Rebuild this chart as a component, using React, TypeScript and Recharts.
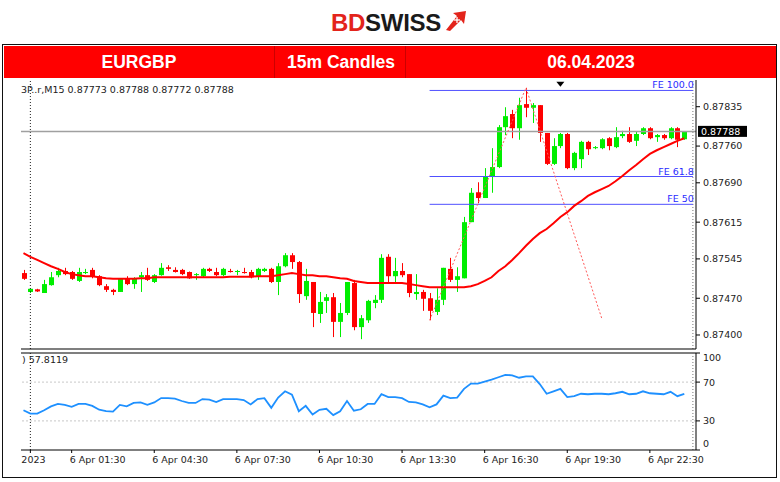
import React from 'react';
import { ComposedChart, LineChart, Line, Bar, XAxis, YAxis, ReferenceLine, ReferenceDot } from 'recharts';

const symbolInfo = '3P..r,M15  0.87773 0.87788 0.87772 0.87788';
const rsiInfo = ') 57.8119';
const headerCells = ['EURGBP', '15m Candles', '06.04.2023'];

const openPrices = [
  0.87518, 0.87482, 0.87487, 0.8748, 0.87495, 0.87514, 0.87522, 0.8752, 0.87503, 0.87518,
  0.87524, 0.87512, 0.87493, 0.87486, 0.87482, 0.87507, 0.87497, 0.8751, 0.87514, 0.87501,
  0.87514, 0.87529, 0.87524, 0.87524, 0.8752, 0.87515, 0.87512, 0.87526, 0.8752, 0.87514,
  0.87522, 0.8752, 0.8752, 0.8752, 0.87512, 0.87522, 0.87526, 0.87501, 0.87531, 0.87552,
  0.87539, 0.87474, 0.87501, 0.8744, 0.87465, 0.87472, 0.87425, 0.87442, 0.87499, 0.87415,
  0.87428, 0.87461, 0.87467, 0.87549, 0.87512, 0.87522, 0.87516, 0.87478, 0.87482, 0.8747,
  0.87444, 0.87467, 0.87526, 0.87505, 0.87508, 0.87615, 0.87672, 0.87661, 0.87701, 0.8772,
  0.87796, 0.87821, 0.87794, 0.8784, 0.87833, 0.87838, 0.87785, 0.87726, 0.8776, 0.87783,
  0.87718, 0.87735, 0.87768, 0.87756, 0.87756, 0.87775, 0.87758, 0.87779, 0.87783, 0.8777,
  0.87783, 0.87794, 0.87777, 0.87781, 0.87775, 0.87794, 0.87773,
];
const highPrices = [
  0.87524, 0.87489, 0.87488, 0.87505, 0.8752, 0.87528, 0.87528, 0.87522, 0.87528, 0.87526,
  0.87528, 0.87514, 0.87497, 0.87488, 0.87508, 0.87512, 0.8751, 0.8752, 0.87528, 0.87516,
  0.87537, 0.87533, 0.87529, 0.87526, 0.87521, 0.87518, 0.87528, 0.87528, 0.87528, 0.87528,
  0.87526, 0.87524, 0.87528, 0.87524, 0.87528, 0.87528, 0.87528, 0.87537, 0.87556, 0.87556,
  0.87541, 0.87526, 0.87501, 0.87482, 0.87478, 0.8748, 0.87461, 0.87501, 0.87505, 0.87438,
  0.87467, 0.87476, 0.87554, 0.87554, 0.87547, 0.87537, 0.87516, 0.87516, 0.87486, 0.8748,
  0.87489, 0.87528, 0.87547, 0.87529, 0.87625, 0.8768, 0.87691, 0.87718, 0.87756, 0.878,
  0.87834, 0.87829, 0.87852, 0.87871, 0.87842, 0.87838, 0.87785, 0.87775, 0.87785, 0.87785,
  0.87749, 0.8777, 0.8777, 0.8776, 0.87775, 0.87777, 0.87796, 0.87789, 0.87796, 0.87787,
  0.87796, 0.87796, 0.87783, 0.87783, 0.87796, 0.87796, 0.87788,
];
const lowPrices = [
  0.87505, 0.8748, 0.87482, 0.8748, 0.87494, 0.8751, 0.87514, 0.87505, 0.87501, 0.87516,
  0.87508, 0.87493, 0.87482, 0.87476, 0.87482, 0.87495, 0.87488, 0.87482, 0.87503, 0.87499,
  0.87513, 0.87522, 0.87519, 0.87514, 0.87507, 0.87505, 0.8751, 0.8752, 0.87512, 0.87512,
  0.87519, 0.87514, 0.87517, 0.87508, 0.87505, 0.8752, 0.87499, 0.87476, 0.87529, 0.87526,
  0.87461, 0.87467, 0.87415, 0.87423, 0.87442, 0.87396, 0.87396, 0.87438, 0.87409, 0.87392,
  0.87423, 0.87451, 0.87461, 0.87501, 0.87501, 0.8751, 0.87472, 0.87467, 0.87446, 0.87428,
  0.87438, 0.87457, 0.87501, 0.87482, 0.87508, 0.87615, 0.87651, 0.87661, 0.87671, 0.87718,
  0.87781, 0.87775, 0.87772, 0.87815, 0.87804, 0.87768, 0.87724, 0.87724, 0.87756, 0.87716,
  0.87714, 0.87718, 0.87743, 0.87754, 0.87754, 0.87752, 0.87756, 0.87775, 0.87766, 0.8776,
  0.87781, 0.87773, 0.87768, 0.87772, 0.87773, 0.87758, 0.87772,
];
const closePrices = [
  0.87507, 0.87488, 0.87483, 0.87497, 0.8751, 0.87522, 0.87516, 0.87507, 0.8752, 0.8752,
  0.87512, 0.87495, 0.87486, 0.87482, 0.87507, 0.87497, 0.87508, 0.87514, 0.87505, 0.87514,
  0.87528, 0.87526, 0.8752, 0.87516, 0.87508, 0.87516, 0.87526, 0.87522, 0.87514, 0.87526,
  0.8752, 0.87522, 0.87518, 0.8751, 0.87526, 0.87526, 0.87501, 0.87531, 0.87552, 0.87539,
  0.87478, 0.87503, 0.87442, 0.87463, 0.87472, 0.87425, 0.87442, 0.87501, 0.87415, 0.87432,
  0.87465, 0.87467, 0.87547, 0.87512, 0.87522, 0.87514, 0.8748, 0.87482, 0.87469, 0.87446,
  0.87467, 0.87528, 0.87505, 0.87512, 0.87615, 0.87671, 0.87661, 0.87701, 0.8772, 0.87796,
  0.87817, 0.87794, 0.87838, 0.87833, 0.87838, 0.87785, 0.87726, 0.8776, 0.87783, 0.87718,
  0.87747, 0.87768, 0.87754, 0.87758, 0.87773, 0.8776, 0.87777, 0.87783, 0.87768, 0.87783,
  0.87794, 0.87775, 0.87781, 0.87775, 0.87794, 0.87772, 0.87788,
];
const maValues = [
  0.87556, 0.87549, 0.87543, 0.87537, 0.87531, 0.87526, 0.8752, 0.87516, 0.87514, 0.87512,
  0.87512, 0.8751, 0.87508, 0.87507, 0.87507, 0.87507, 0.87507, 0.87508, 0.87508, 0.8751,
  0.8751, 0.8751, 0.8751, 0.8751, 0.8751, 0.8751, 0.8751, 0.8751, 0.8751, 0.8751,
  0.87511, 0.87511, 0.87511, 0.87511, 0.87512, 0.87512, 0.87512, 0.87514, 0.87516, 0.87518,
  0.87516, 0.87514, 0.87514, 0.87512, 0.87512, 0.8751, 0.87508, 0.87507, 0.87503, 0.87501,
  0.87499, 0.87499, 0.87499, 0.87499, 0.87499, 0.87499, 0.87497, 0.87495, 0.87493, 0.87491,
  0.87491, 0.87491, 0.87491, 0.87491, 0.87491, 0.87493, 0.87497, 0.87503, 0.8751, 0.87522,
  0.87531, 0.87543, 0.87556, 0.8757, 0.87583, 0.87594, 0.87602, 0.87613, 0.87625, 0.87634,
  0.87646, 0.87655, 0.87665, 0.87672, 0.87678, 0.87684, 0.87693, 0.87703, 0.87714, 0.87724,
  0.87735, 0.87745, 0.87752, 0.87758, 0.87764, 0.8777, 0.87775,
];
const rsiValues = [
  41, 37.5, 37.5, 41, 45, 47.5, 46.5, 44.5, 47.5, 47.5,
  45.5, 41.5, 40, 39.5, 46.5, 45, 48.5, 49, 46.5, 49,
  53.5, 53.5, 53, 50.5, 48.5, 48.5, 52.5, 52, 49.5, 52.5,
  52.5, 52.5, 51.5, 47, 52.5, 53.5, 43.5, 54, 60.5, 57,
  40, 45.5, 36.5, 41.5, 42.5, 36, 40, 50.5, 40.5, 42,
  47.5, 47.5, 57.5, 54.5, 54.5, 53.5, 49.5, 49, 47, 44,
  47, 56, 53.5, 54, 63, 68.5, 68.5, 70.5, 72.5, 75,
  77.5, 77, 74.5, 76, 76, 68, 58, 60.5, 63, 54.5,
  55.5, 58, 57.5, 58, 58, 57.5, 58.5, 60, 57.5, 58,
  60.5, 58.5, 58, 57.5, 60, 55.5, 57.8,
];

const priceTicks = [0.874, 0.8747, 0.87545, 0.87615, 0.8769, 0.8776, 0.87835];
const rsiTicks = [0, 30, 70, 100];
const rsiGridLevels = [30, 70];
const timeTickIndex = [1, 7, 19, 31, 43, 55, 67, 79, 91];
const timeTickLabels = ['2023', '6 Apr 01:30', '6 Apr 04:30', '6 Apr 07:30', '6 Apr 10:30', '6 Apr 13:30', '6 Apr 16:30', '6 Apr 19:30', '6 Apr 22:30'];
const feLevels = [0.87866, 0.87702, 0.87649];
const feLabels = ['FE 100.0', 'FE 61.8', 'FE 50'];
const fibPointIndex = [59, 73, 84];
const fibPointPrice = [0.87428, 0.87871, 0.87432];
const lastPrice = 0.87788;
const daySeparatorIndex = 1;
const chartShiftIndex = 97.25;
const markerIndex = 78;
const markerPrice = 0.87877;

const X_MIN = -0.36;
const X_MAX = 97.7;
const Y_MIN = 0.873733;
const Y_MAX = 0.878859;
const FONT = 'DejaVu Sans, Verdana, sans-serif';

const Candle = (props: any) => {
  const { x, y, width, height, payload } = props;
  if (x == null || y == null || !payload) return null;
  const { open, close, high, low } = payload;
  const top = Math.min(y, y + height);
  const bot = Math.max(y, y + height);
  const span = high - low;
  const yOf = (p: number) => (span > 0 ? top + ((high - p) / span) * (bot - top) : top);
  const cx = Math.round(x + width / 2) + 0.5;
  const up = close >= open;
  const color = up ? '#00ee00' : '#ff0000';
  const bt = yOf(Math.max(open, close));
  const bb = yOf(Math.min(open, close));
  return (
    <g>
      <line x1={cx} x2={cx} y1={top} y2={Math.max(bot, top + 1)} stroke={color} strokeWidth={1} />
      <rect x={cx - 2.5} y={bt} width={5} height={Math.max(1, bb - bt)} fill={color} />
    </g>
  );
};

const XTick = (props: any) => {
  const { x, y, payload } = props;
  const idx = timeTickIndex.indexOf(payload.value);
  const label = timeTickLabels[idx] ?? '';
  return (
    <text x={idx === 0 ? x - 9 : x - 2} y={y + 8} fontSize={9.5} fontFamily={FONT} fill="#222">
      {label}
    </text>
  );
};

const RsiTick = (props: any) => {
  const { x, y, payload } = props;
  const v = payload.value;
  const dy = v === 100 ? 8 : v === 0 ? -3.5 : 3.5;
  return (
    <text x={x} y={y + dy} fontSize={9.5} fontFamily={FONT} fill="#222">
      {v}
    </text>
  );
};

export default function App() {
  const rows = openPrices.map((o, i) => {
    const fp = fibPointIndex.indexOf(i);
    return {
      i,
      open: o,
      high: highPrices[i],
      low: lowPrices[i],
      close: closePrices[i],
      range: [lowPrices[i], highPrices[i]],
      ma: maValues[i],
      fib: fp >= 0 ? fibPointPrice[fp] : null,
    };
  });
  const rsiRows = rsiValues.map((v, i) => ({ i, rsi: v }));

  return (
    <div style={{ position: 'absolute', left: 0, top: 0, width: 780, height: 482, background: '#fff', overflow: 'hidden' }}>
      {/* logo */}
      <svg style={{ position: 'absolute', left: 0, top: 0 }} width={780} height={44}>
        <text x={331} y={31} fontSize={24} fontWeight="bold" fontFamily="Liberation Sans, Arial, sans-serif" letterSpacing={-0.3}>
          <tspan fill="#e3241b">BD</tspan>
          <tspan fill="#1a1a1a">SWISS</tspan>
        </text>
        <polygon points="446,30 457,16 453,13 466,11 464,24 461,20 450,31" fill="#e3241b" />
        <line x1={457} y1={17} x2={457} y2={23} stroke="#fff" strokeWidth={1.3} />
        <line x1={454} y1={20} x2={460} y2={20} stroke="#fff" strokeWidth={1.3} />
      </svg>

      {/* outer frame */}
      <div style={{ position: 'absolute', left: 2, top: 44, width: 773, height: 432, border: '1.5px solid #111' }} />

      {/* header */}
      <div style={{ position: 'absolute', left: 4, top: 46, width: 772, height: 32, background: '#ff0000' }}>
        <div style={{ position: 'absolute', left: 270, top: 0, width: 1, height: 32, background: 'rgba(110,0,0,0.35)' }} />
        <div style={{ position: 'absolute', left: 401, top: 0, width: 1, height: 32, background: 'rgba(110,0,0,0.35)' }} />
        {headerCells.map((t, k) => (
          <div
            key={t}
            style={{
              position: 'absolute',
              left: [35, 237, 487][k],
              width: [200, 200, 200][k],
              top: 6,
              textAlign: 'center',
              color: '#fff',
              fontFamily: 'Liberation Sans, Arial, sans-serif',
              fontWeight: 'bold',
              fontSize: 17.5,
              lineHeight: '20px',
            }}
          >
            {t}
          </div>
        ))}
      </div>

      {/* main price chart */}
      <div style={{ position: 'absolute', left: 0, top: 0 }}>
        <ComposedChart width={780} height={482} data={rows} margin={{ top: 80, right: 34, bottom: 133, left: 21 }}>
          <XAxis type="number" dataKey="i" domain={[X_MIN, X_MAX]} allowDataOverflow hide />
          <YAxis
            orientation="right"
            type="number"
            domain={[Y_MIN, Y_MAX]}
            allowDataOverflow
            ticks={priceTicks}
            interval={0}
            width={50}
            tickFormatter={(v: number) => v.toFixed(5)}
            tick={{ fontSize: 9.5, fill: '#222', fontFamily: FONT }}
            tickSize={4}
            tickMargin={3}
            axisLine={{ stroke: '#000' }}
            tickLine={{ stroke: '#000' }}
          />
          <ReferenceLine x={daySeparatorIndex} stroke="#222" strokeDasharray="1 2" />
          <ReferenceLine x={chartShiftIndex} stroke="#777" strokeDasharray="1 2" />
          {feLevels.map((lv, k) => (
            <ReferenceLine
              key={feLabels[k]}
              segment={[{ x: fibPointIndex[0], y: lv }, { x: chartShiftIndex, y: lv }]}
              stroke="#5050ff"
              strokeWidth={1}
              label={(p: any) => {
                const vb = p.viewBox || {};
                return (
                  <text x={(vb.x ?? 0) + (vb.width ?? 0) + 1} y={(vb.y ?? 0) - 2} textAnchor="end" fontSize={9.5} fontFamily={FONT} fill="#2a2aff">
                    {feLabels[k]}
                  </text>
                );
              }}
            />
          ))}
          <ReferenceLine
            y={lastPrice}
            stroke="#a0a0a0"
            strokeWidth={1.5}
            label={(p: any) => {
              const vb = p.viewBox || {};
              const x0 = (vb.x ?? 0) + (vb.width ?? 0) + 2;
              const yc = vb.y ?? 0;
              return (
                <g>
                  <rect x={x0} y={yc - 5.5} width={49} height={11} fill="#000" />
                  <text x={x0 + 3} y={yc + 3.5} fontSize={9.5} fontFamily={FONT} fill="#fff">
                    {lastPrice.toFixed(5)}
                  </text>
                </g>
              );
            }}
          />
          <ReferenceLine y={Y_MIN} stroke="#000" strokeWidth={1.2} />
          <Bar dataKey="range" barSize={5} shape={<Candle />} isAnimationActive={false} />
          <Line dataKey="ma" type="linear" stroke="#ff0000" strokeWidth={2} dot={false} isAnimationActive={false} />
          <Line dataKey="fib" type="linear" stroke="#ff5a5a" strokeWidth={1} strokeDasharray="2 2" dot={false} connectNulls isAnimationActive={false} />
          <ReferenceDot
            x={markerIndex}
            y={markerPrice}
            r={4}
            ifOverflow="visible"
            shape={(p: any) => (
              <polygon points={`${p.cx - 4},${p.cy - 3} ${p.cx + 4},${p.cy - 3} ${p.cx},${p.cy + 2}`} fill="#000" />
            )}
          />
        </ComposedChart>
      </div>

      {/* RSI panel */}
      <div style={{ position: 'absolute', left: 0, top: 0 }}>
        <LineChart width={780} height={482} data={rsiRows} margin={{ top: 353, right: 34, bottom: 12, left: 21 }}>
          <XAxis
            type="number"
            dataKey="i"
            domain={[X_MIN, X_MAX]}
            allowDataOverflow
            ticks={timeTickIndex}
            interval={0}
            height={20}
            tick={<XTick />}
            tickSize={3}
            axisLine={{ stroke: '#000' }}
            tickLine={{ stroke: '#000' }}
          />
          <YAxis
            orientation="right"
            type="number"
            domain={[0, 100]}
            ticks={rsiTicks}
            interval={0}
            width={50}
            tick={<RsiTick />}
            tickSize={4}
            tickMargin={3}
            axisLine={{ stroke: '#000' }}
            tickLine={{ stroke: '#000' }}
          />
          {rsiGridLevels.map((lv) => (
            <ReferenceLine key={lv} y={lv} stroke="#c8c8c8" strokeDasharray="2 2" />
          ))}
          <ReferenceLine y={100} stroke="#000" strokeWidth={1.2} />
          <ReferenceLine x={daySeparatorIndex} stroke="#222" strokeDasharray="1 2" />
          <ReferenceLine x={chartShiftIndex} stroke="#777" strokeDasharray="1 2" />
          <Line dataKey="rsi" type="linear" stroke="#1e90ff" strokeWidth={1.8} dot={false} isAnimationActive={false} />
        </LineChart>
      </div>

      {/* panel captions */}
      <svg style={{ position: 'absolute', left: 0, top: 0, pointerEvents: 'none' }} width={780} height={482}>
        <text x={21} y={93} fontSize={9.5} fontFamily={FONT} fill="#222">{symbolInfo}</text>
        <text x={22} y={363} fontSize={9.5} fontFamily={FONT} fill="#222">{rsiInfo}</text>
      </svg>
    </div>
  );
}
